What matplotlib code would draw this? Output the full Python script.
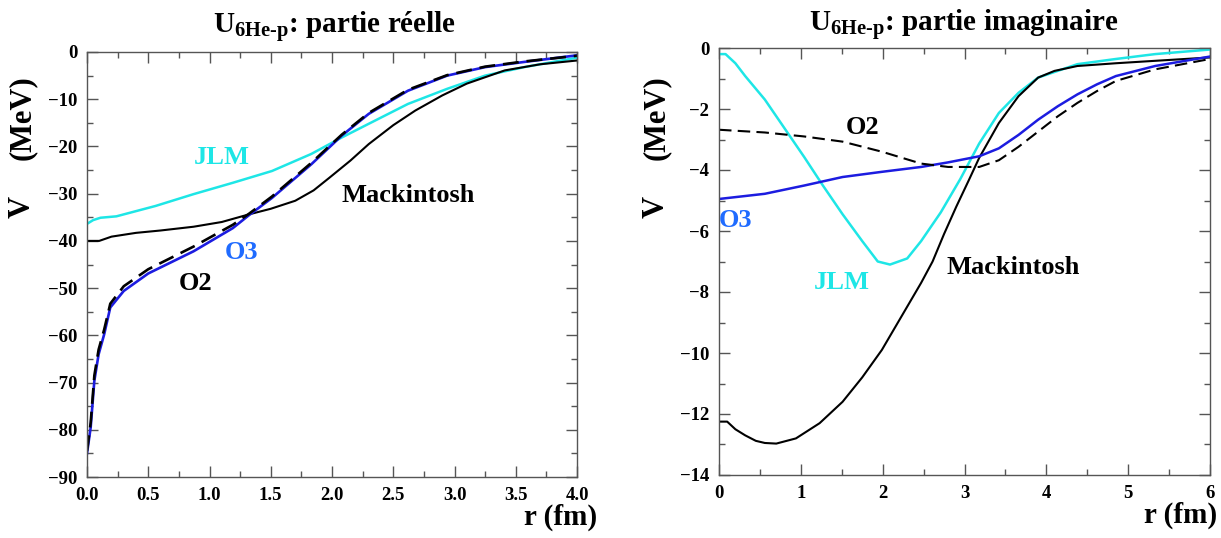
import matplotlib
matplotlib.use("Agg")
import matplotlib.pyplot as plt
from matplotlib.ticker import MultipleLocator

plt.rcParams['font.family'] = ['Liberation Serif', 'DejaVu Serif']
plt.rcParams['font.weight'] = 'bold'
plt.rcParams['mathtext.fontset'] = 'custom'
plt.rcParams['mathtext.rm'] = 'Liberation Serif:bold'
plt.rcParams['mathtext.bf'] = 'Liberation Serif:bold'

# --- partie reelle (left panel) ---
r_mack_re = [0, 0.1, 0.2, 0.4, 0.6, 0.87, 1.1, 1.32, 1.5, 1.7, 1.85, 1.98, 2.15, 2.3, 2.5, 2.68, 2.9, 3.1, 3.41, 3.7, 4.0]
v_mack_re = [-40, -40, -39.1, -38.3, -37.8, -37.0, -36.0, -34.4, -33.2, -31.5, -29.3, -26.6, -23.0, -19.5, -15.5, -12.4, -9.2, -6.7, -3.9, -2.6, -1.8]

r_jlm_re = [0, 0.05, 0.11, 0.24, 0.56, 0.87, 1.19, 1.51, 1.83, 2.08, 2.3, 2.62, 2.94, 3.25, 3.57, 4.0]
v_jlm_re = [-36.4, -35.6, -35.1, -34.8, -32.6, -30.1, -27.7, -25.2, -21.6, -18.1, -15.2, -11.0, -7.8, -5.0, -3.2, -1.2]

r_o_re = [0, 0.03, 0.06, 0.095, 0.14, 0.19, 0.3, 0.5, 0.87, 1.19, 1.32, 1.51, 1.83, 2.08, 2.3, 2.62, 2.94, 3.25, 3.57, 4.0]
v_o3_re = [-85, -79.5, -69.6, -64, -59.8, -54.1, -50.6, -46.9, -42.2, -37.3, -34.6, -30.9, -23.8, -17.7, -13.1, -8.2, -5.0, -3.2, -2.1, -0.7]
v_o2_re = [-84.5, -78.5, -68.5, -63, -58.8, -53.3, -49.6, -46.0, -41.2, -36.6, -34.3, -30.6, -23.5, -17.5, -12.9, -8.0, -4.9, -3.1, -2.0, -0.8]

# --- partie imaginaire (right panel) ---
r_jlm_im = [0, 0.08, 0.2, 0.32, 0.56, 0.8, 1.04, 1.27, 1.51, 1.75, 1.94, 2.09, 2.3, 2.47, 2.71, 2.95, 3.18, 3.42, 3.66, 3.9, 4.38, 4.85, 5.33, 6.0]
v_jlm_im = [-0.2, -0.2, -0.5, -0.92, -1.69, -2.63, -3.57, -4.51, -5.45, -6.33, -7.0, -7.1, -6.9, -6.33, -5.39, -4.29, -3.13, -2.13, -1.47, -0.97, -0.53, -0.36, -0.2, -0.05]

r_mack_im = [0, 0.1, 0.2, 0.32, 0.45, 0.56, 0.7, 0.94, 1.23, 1.51, 1.75, 1.99, 2.23, 2.47, 2.61, 2.75, 2.9, 3.05, 3.18, 3.42, 3.66, 3.9, 4.1, 4.38, 4.85, 5.33, 6.0]
v_mack_im = [-12.25, -12.25, -12.5, -12.7, -12.88, -12.95, -12.97, -12.8, -12.3, -11.6, -10.8, -9.9, -8.8, -7.7, -7.0, -6.1, -5.2, -4.35, -3.6, -2.46, -1.58, -0.97, -0.75, -0.59, -0.5, -0.42, -0.31]

r_o_im = [0, 0.56, 1.04, 1.51, 1.99, 2.47, 2.8, 3.18, 3.42, 3.66, 3.9, 4.14, 4.38, 4.62, 4.85, 5.33, 6.0]
v_o2_im = [-2.68, -2.77, -2.9, -3.07, -3.4, -3.79, -3.9, -3.9, -3.68, -3.24, -2.74, -2.24, -1.8, -1.41, -1.08, -0.7, -0.36]
v_o3_im = [-4.95, -4.78, -4.51, -4.23, -4.06, -3.9, -3.75, -3.55, -3.29, -2.85, -2.35, -1.91, -1.52, -1.19, -0.92, -0.59, -0.28]

CYAN = '#1ee6e6'
BLUE = '#1c1ce0'
BLUE_TXT = '#1f6bff'
W, H = 1221, 538

fig = plt.figure(figsize=(12.21, 5.38), dpi=100)
ax1 = fig.add_axes([87 / W, 1 - 477 / H, 490 / W, 425 / H])
ax2 = fig.add_axes([719 / W, 1 - 475 / H, 491 / W, 427 / H])


def style_axes(ax, xmaj, xmin, ymaj, ymin):
    ax.xaxis.set_major_locator(MultipleLocator(xmaj))
    ax.xaxis.set_minor_locator(MultipleLocator(xmin))
    ax.yaxis.set_major_locator(MultipleLocator(ymaj))
    ax.yaxis.set_minor_locator(MultipleLocator(ymin))
    ax.tick_params(which='both', direction='in', top=True, right=True, colors='#555555',
                   labelcolor='black', labelsize=13.5, width=1.0)
    ax.tick_params(which='major', length=8, pad=7)
    ax.tick_params(which='minor', length=4)
    for sp in ax.spines.values():
        sp.set_color('#555555')
        sp.set_linewidth(1.0)
    for lab in ax.get_xticklabels() + ax.get_yticklabels():
        lab.set_fontweight('bold')


# left panel
ax1.plot(r_jlm_re, v_jlm_re, color=CYAN, lw=1.8)
ax1.plot(r_mack_re, v_mack_re, color='black', lw=1.5)
ax1.plot(r_o_re, v_o3_re, color=BLUE, lw=1.9)
ax1.plot(r_o_re, v_o2_re, color='black', lw=1.9, dashes=(6, 3))
ax1.set_xlim(0, 4)
ax1.set_ylim(-90, 0)
style_axes(ax1, 0.5, 0.25, 10, 5)
ax1.xaxis.set_major_formatter(plt.FormatStrFormatter('%.1f'))

lbl = dict(fontsize=19, fontweight='bold', ha='center', va='center')
ax1.text(1.1, -22.4, 'JLM', color=CYAN, **lbl)
ax1.text(2.62, -30.3, 'Mackintosh', color='black', **lbl)
ax1.text(1.26, -42.4, 'O3', color=BLUE_TXT, **lbl)
ax1.text(0.89, -49.1, 'O2', color='black', **lbl)

# right panel
ax2.plot(r_jlm_im, v_jlm_im, color=CYAN, lw=1.8)
ax2.plot(r_mack_im, v_mack_im, color='black', lw=1.5)
ax2.plot(r_o_im, v_o3_im, color=BLUE, lw=1.8)
ax2.plot(r_o_im, v_o2_im, color='black', lw=1.5, dashes=(6, 3))
ax2.set_xlim(0, 6)
ax2.set_ylim(-14, 0)
style_axes(ax2, 1, 0.5, 2, 1)

ax2.text(1.75, -2.6, 'O2', color='black', **lbl)
ax2.text(0.0, -5.65, 'O3', color=BLUE_TXT, fontsize=19, fontweight='bold', ha='left', va='center')
ax2.text(1.5, -7.7, 'JLM', color=CYAN, **lbl)
ax2.text(3.6, -7.2, 'Mackintosh', color='black', **lbl)

# titles
fig.text(335 / W, 1 - 33 / H, r'$\mathbf{U}_{\mathbf{6He}\text{-}\mathbf{p}}$: partie réelle',
         fontsize=21, fontweight='bold', ha='center', va='baseline')
fig.text(964 / W, 1 - 31 / H, r'$\mathbf{U}_{\mathbf{6He}\text{-}\mathbf{p}}$: partie imaginaire',
         fontsize=21, fontweight='bold', ha='center', va='baseline')

# y labels
for xpx in (22, 656):
    fig.text(xpx / W, 1 - 118 / H, '(MeV)', rotation=90, fontsize=22, fontweight='bold',
             ha='center', va='center')
    fig.text(xpx / W, 1 - 207 / H, 'V', rotation=90, fontsize=22, fontweight='bold',
             ha='center', va='center')

# x labels
fig.text(597 / W, 1 - 517 / H, 'r (fm)', fontsize=21, fontweight='bold', ha='right', va='center')
fig.text(1217 / W, 1 - 515 / H, 'r (fm)', fontsize=21, fontweight='bold', ha='right', va='center')

fig.savefig('out.png', dpi=100)
